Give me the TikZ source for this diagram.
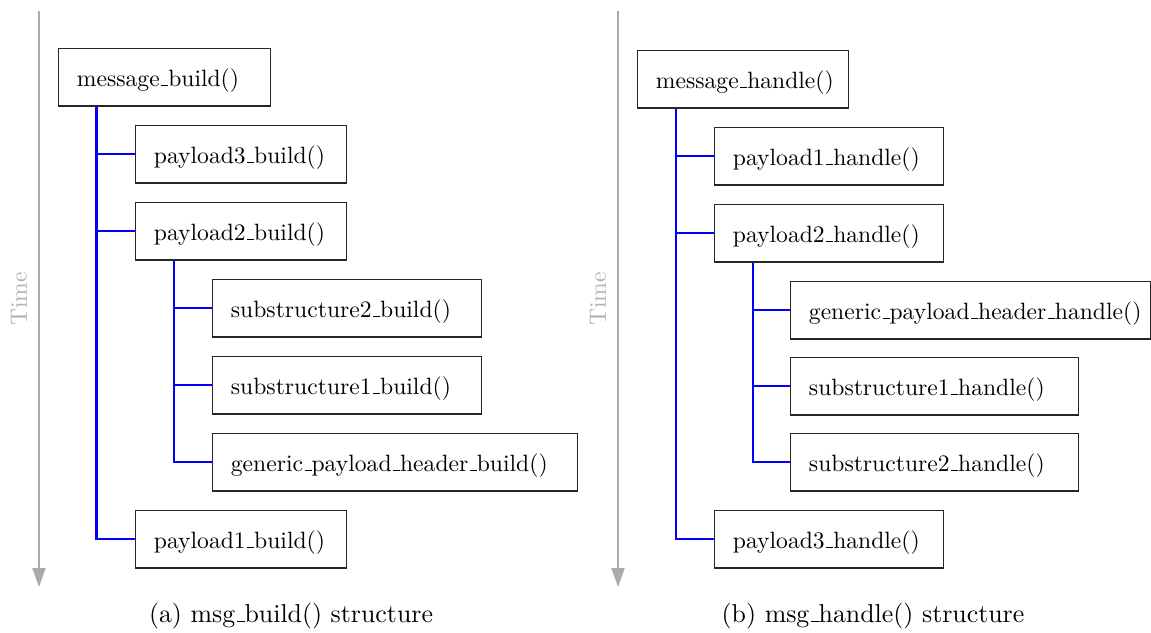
\documentclass[tikz,border=0pt]{standalone}
\usetikzlibrary{arrows.meta,calc}
% narrow rule-style underscore, as in classic LaTeX \_
\newcommand\us{\leavevmode\kern.06em\vbox{\hrule width.3em}}
\begin{document}
\begin{tikzpicture}[x=0.4237pt, y=-0.4237pt,
  fbox/.style={draw=black!85, line width=0.45pt, inner xsep=7.8pt, inner ysep=0pt,
    minimum height=24.36pt, text height=10pt, text depth=2.5pt,
    anchor=north west, align=left, text width=#1},
  link/.style={draw=blue, line width=0.85pt},
  timeline/.style={draw=black!33, line width=0.85pt, -{Triangle[length=8pt,width=5.5pt]}},
  timelabel/.style={text=black!30, rotate=90},
  subcap/.style={font=\fontsize{10.95}{13}\selectfont, anchor=base}]
\useasboundingbox (0,0) rectangle (1151,633);

% ---- (a) build side ----
\coordinate (ta0) at (39,11);
\coordinate (ta1) at (39,587);
\draw[timeline] (ta0) -- (ta1);
\node[timelabel] (tla) at (19,299) {Time};

\node[fbox=74.22pt] (mb)  at (58,48)   {message\us build()};
\node[fbox=73.80pt] (pb3) at (135,125) {payload3\us build()};
\node[fbox=73.80pt] (pb2) at (135,202) {payload2\us build()};
\node[fbox=98.38pt] (sb2) at (212,279) {substructure2\us build()};
\node[fbox=98.38pt] (sb1) at (212,356) {substructure1\us build()};
\node[fbox=139.05pt] (gb) at (212,433) {generic\us payload\us header\us build()};
\node[fbox=73.80pt] (pb1) at (135,510) {payload1\us build()};

\foreach \t in {pb3,pb2,pb1}
  \draw[link] ($(mb.south west)+(38.5,0)$) |- (\t.west);
\foreach \t in {sb2,sb1,gb}
  \draw[link] ($(pb2.south west)+(38.5,0)$) |- (\t.west);

\node[subcap] (capa) at (291,622) {(a) msg\us build() structure};

% ---- (b) handle side ----
\coordinate (tb0) at (618,11);
\coordinate (tb1) at (618,587);
\draw[timeline] (tb0) -- (tb1);
\node[timelabel] (tlb) at (598,299) {Time};

\node[fbox=73.80pt]  (mh)  at (637,50)  {message\us handle()};
\node[fbox=81.43pt]  (ph1) at (714,127) {payload1\us handle()};
\node[fbox=81.43pt]  (ph2) at (714,204) {payload2\us handle()};
\node[fbox=136.93pt] (gh)  at (790,281) {generic\us payload\us header\us handle()};
\node[fbox=106.43pt] (sh1) at (790,357) {substructure1\us handle()};
\node[fbox=106.43pt] (sh2) at (790,433) {substructure2\us handle()};
\node[fbox=81.43pt]  (ph3) at (714,510) {payload3\us handle()};

\foreach \t in {ph1,ph2,ph3}
  \draw[link] ($(mh.south west)+(38.5,0)$) |- (\t.west);
\foreach \t in {gh,sh1,sh2}
  \draw[link] ($(ph2.south west)+(38.5,0)$) |- (\t.west);

\node[subcap] (capb) at (873,622) {(b) msg\us handle() structure};
\end{tikzpicture}
\end{document}
